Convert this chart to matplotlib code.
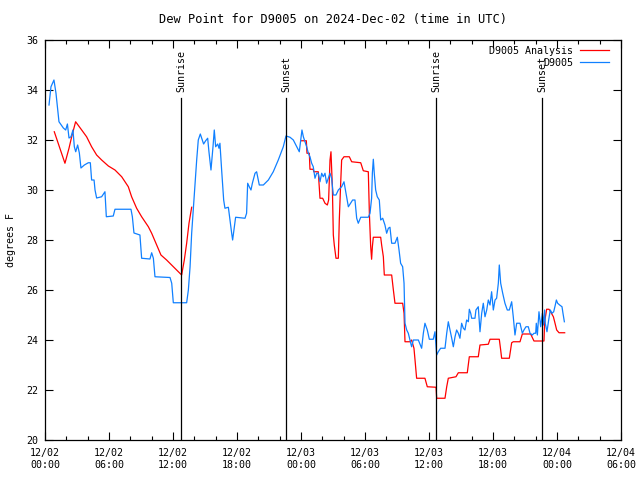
import matplotlib
matplotlib.use("Agg")
import matplotlib.pyplot as plt
import numpy as np

# hours since 2024-12-02 00:00 UTC
obs_hours = [
    0.375, 0.56, 0.84, 1.03, 1.19, 1.31, 1.72, 1.94, 2.1, 2.25, 2.44, 2.62, 2.75, 2.88,
    3.06, 3.22, 3.37, 3.69, 4.06, 4.25, 4.37, 4.6, 4.69, 4.84, 5.31, 5.62, 5.75, 6.4,
    6.56, 8.06, 8.19, 8.34, 8.9, 9.06, 9.84, 10.0, 10.16, 10.31, 11.72, 11.88, 12.03,
    13.28, 13.44, 13.6, 13.75, 13.9, 14.06, 14.22, 14.37, 14.56, 14.75, 14.87, 15.06,
    15.25, 15.37, 15.56, 15.75, 15.87, 16.0, 16.19, 16.31, 16.4, 16.56, 16.75, 16.87,
    17.19, 17.34, 17.5, 17.59, 17.75, 17.87, 18.75, 18.9, 19.0, 19.15, 19.31, 19.44,
    19.62, 19.69, 19.84, 20.09, 20.47, 20.94, 21.4, 21.87, 22.34, 22.59, 22.97, 23.28,
    23.6, 23.84, 23.97, 24.09, 24.22, 24.37, 24.53, 24.69, 24.84, 25.0, 25.15, 25.31,
    25.47, 25.62, 25.78, 25.94, 26.09, 26.25, 26.4, 26.72, 26.87, 27.03, 27.28, 27.5,
    27.81, 28.03, 28.22, 28.44, 28.84, 29.06, 29.22, 29.37, 29.6, 30.31, 30.47, 30.62,
    30.69, 30.78, 30.87, 31.0, 31.15, 31.34, 31.47, 31.66, 31.87, 32.03, 32.19, 32.34,
    32.5, 32.81, 33.03, 33.19, 33.34, 33.53, 33.66, 33.75, 33.91, 34.06, 34.22, 34.37,
    34.53, 35.0, 35.31, 35.47, 35.62, 35.84, 36.03, 36.4, 36.56, 36.72, 36.87, 37.09,
    37.5, 37.66, 37.81, 37.97, 38.13, 38.28, 38.44, 38.59, 38.75, 38.9, 39.06, 39.22,
    39.37, 39.53, 39.69, 39.78, 39.91, 40.0, 40.31, 40.4, 40.62, 40.78, 40.94, 41.09,
    41.25, 41.41, 41.56, 41.72, 41.87, 42.03, 42.19, 42.34, 42.5, 42.59, 42.72, 42.91,
    43.12, 43.34, 43.53, 43.75, 43.9, 44.06, 44.22, 44.53, 44.75, 44.9, 45.09, 45.31,
    45.47, 45.69, 45.84, 46.0, 46.06, 46.16, 46.31, 46.47, 46.63, 46.72, 46.84, 46.9,
    47.06, 47.22, 47.37, 47.53, 47.69, 47.84, 47.94, 48.06, 48.25, 48.47, 48.56, 48.69,
]
obs_dewpt = [
    33.4, 34.13, 34.4, 33.87, 33.2, 32.73, 32.48, 32.4, 32.64, 32.08, 32.13, 32.4, 31.73, 31.53,
    31.8, 31.48, 30.88, 31.0, 31.09, 31.09, 30.4, 30.4, 30.0, 29.68, 29.73, 29.93, 28.93, 28.96,
    29.23, 29.23, 28.93, 28.28, 28.2, 27.27, 27.24, 27.49, 27.27, 26.53, 26.5, 26.27, 25.49,
    25.49, 26.0, 26.93, 28.27, 29.2, 30.13, 31.2, 32.0, 32.24, 32.0, 31.84, 31.97,
    32.07, 31.53, 30.8, 31.73, 32.4, 31.73, 31.84, 31.67, 31.87, 30.8, 29.6, 29.27,
    29.31, 28.8, 28.27, 28.0, 28.53, 28.91, 28.87, 29.07, 30.27, 30.13, 30.0, 30.27,
    30.56, 30.67, 30.73, 30.2, 30.2, 30.4, 30.73, 31.2, 31.73, 32.16, 32.11, 32.0,
    31.73, 31.53, 32.0, 32.4, 32.13, 31.93, 31.73, 31.47, 31.33, 31.07, 30.93, 30.47,
    30.67, 30.67, 30.33, 30.67, 30.53, 30.67, 30.27, 30.67, 30.47, 29.8, 29.8, 30.0,
    30.13, 30.33, 29.87, 29.33, 29.6, 29.6, 28.87, 28.67, 28.91, 28.91, 29.07, 29.67,
    30.67, 31.23, 30.67, 30.0, 29.73, 29.6, 28.8, 28.87, 28.6, 28.27, 28.47, 28.51,
    27.87, 27.87, 28.11, 27.6, 27.07, 26.93, 26.27, 24.67, 24.4, 24.27, 24.0, 23.73,
    24.0, 24.0, 23.67, 24.27, 24.67, 24.4, 24.03, 24.03, 24.33, 23.4, 23.53, 23.67,
    23.67, 24.27, 24.73, 24.4, 24.07, 23.73, 24.13, 24.4, 24.27, 24.07, 24.67, 24.47,
    24.4, 24.8, 24.73, 25.23, 25.07, 24.87, 24.87, 25.2, 25.33, 24.33, 25.07, 25.47,
    24.93, 25.2, 25.6, 25.4, 25.93, 25.2, 25.6, 25.67, 26.27, 27.0, 26.27, 25.87,
    25.47, 25.2, 25.2, 25.53, 24.93, 24.2, 24.67, 24.67, 24.27, 24.4, 24.53, 24.53,
    24.27, 24.2, 24.27, 24.27, 24.67, 24.2, 25.13, 24.53, 25.07, 24.6, 25.2, 24.67,
    24.33, 24.8, 25.2, 25.07, 25.13, 25.4, 25.6, 25.47, 25.4, 25.33, 25.07, 24.73,
]

ana_hours = [
    0.87, 1.87, 2.25, 2.5, 2.87, 3.44, 3.9, 4.37, 4.84, 5.31, 5.94, 6.56, 7.19, 7.81,
    8.12, 8.59, 9.06, 9.69, 10.0, 10.47, 10.87, 11.4, 11.87, 12.34, 12.81, 13.06, 13.28,
    13.5, 13.75, 18.0,
    24.06, 24.5, 24.56, 24.78, 24.84, 25.15, 25.2, 25.62, 25.78, 26.03, 26.25, 26.47,
    26.59, 26.72, 26.81, 26.94, 27.03, 27.12, 27.28, 27.5, 27.59, 27.72, 27.81, 28.03,
    28.53, 28.75, 29.6, 29.84, 30.31, 30.41, 30.53, 30.62, 30.69, 30.78, 31.47, 31.56,
    31.72, 31.81, 32.5, 32.66, 32.81, 33.53, 33.66, 33.75, 34.22, 34.37, 34.59, 34.69,
    34.84, 35.62, 35.84, 36.66, 36.72, 37.5, 37.66, 37.81, 38.53, 38.75, 39.59, 39.78,
    40.62, 40.78, 41.56, 41.72, 42.59, 42.72, 42.81, 43.53, 43.75, 43.9, 44.53, 44.75,
    45.53, 45.84, 46.78, 46.84, 47.03, 47.25, 47.4, 47.66, 47.78, 47.97, 48.19, 48.72,
]
ana_dewpt = [
    32.33, 31.07, 31.67, 32.13, 32.73, 32.4, 32.13, 31.73, 31.4, 31.2, 30.96, 30.8, 30.53, 30.13,
    29.73, 29.27, 28.93, 28.53, 28.27, 27.8, 27.4, 27.2, 27.0, 26.8, 26.6, 27.2, 27.87,
    28.67, 29.31, np.nan,
    31.97, 31.97, 31.47, 31.47, 30.83, 30.83, 30.73, 30.73, 29.67, 29.67, 29.47, 29.4,
    29.6, 31.2, 31.53, 30.13, 28.2, 27.8, 27.27, 27.27, 28.8, 30.27, 31.2, 31.33,
    31.33, 31.13, 31.09, 30.77, 30.73, 29.07, 27.76, 27.23, 27.73, 28.11, 28.11, 27.8,
    27.33, 26.6, 26.6, 26.0, 25.47, 25.47, 25.07, 23.93, 23.93, 24.0, 23.67, 23.2,
    22.47, 22.47, 22.13, 22.11, 21.67, 21.67, 22.13, 22.47, 22.53, 22.69, 22.69, 23.33,
    23.33, 23.8, 23.83, 24.03, 24.03, 23.6, 23.27, 23.27, 23.89, 23.93, 23.93, 24.24,
    24.24, 23.96, 23.96, 24.73, 25.23, 25.23, 25.13, 24.93, 24.73, 24.4, 24.29, 24.29,
]

sun_hours = [12.78, 22.6, 36.69, 46.62]
sun_labels = ["Sunrise", "Sunset", "Sunrise", "Sunset"]

tick_hours = [0, 6, 12, 18, 24, 30, 36, 42, 48, 54]
tick_labels = ["12/02\n00:00", "12/02\n06:00", "12/02\n12:00", "12/02\n18:00",
               "12/03\n00:00", "12/03\n06:00", "12/03\n12:00", "12/03\n18:00",
               "12/04\n00:00", "12/04\n06:00"]

plt.rcParams["font.family"] = "DejaVu Sans Mono"
plt.rcParams["font.size"] = 7.2

fig = plt.figure(figsize=(6.4, 4.8), dpi=100)
ax = fig.add_axes([45 / 640, 40 / 480, 576 / 640, 400 / 480])

ax.plot(ana_hours, ana_dewpt, color="#ff0000", lw=0.9, label="D9005 Analysis")
ax.plot(obs_hours, obs_dewpt, color="#1080ff", lw=0.9, label="D9005")

for h, lab in zip(sun_hours, sun_labels):
    ax.plot([h, h], [0, 0.855], color="black", lw=0.9, transform=ax.get_xaxis_transform())
    ax.text(h, 0.87, lab, rotation=90, ha="center", va="bottom",
            transform=ax.get_xaxis_transform())

ax.set_xlim(0, 54)
ax.set_ylim(20, 36)
ax.set_xticks(tick_hours)
ax.set_xticklabels(tick_labels)
ax.set_xticks(np.arange(0, 55, 2), minor=True)
ax.set_yticks(np.arange(20, 37, 2))
ax.tick_params(which="both", direction="in", top=True, right=True, width=0.8)
ax.tick_params(which="major", length=6)
ax.tick_params(which="minor", length=3)
ax.tick_params(axis="x", pad=6)
ax.tick_params(axis="y", pad=5)
for s in ax.spines.values():
    s.set_linewidth(0.9)

ax.set_ylabel("degrees F", labelpad=7)
ax.set_title("Dew Point for D9005 on 2024-Dec-02 (time in UTC)", pad=12)

ax.legend(loc="upper right", bbox_to_anchor=(0.99, 1.0), frameon=False,
          markerfirst=False, handlelength=2.9, handletextpad=0.7,
          labelspacing=0.2, borderaxespad=0.2)

fig.savefig("out.png", dpi=100)
